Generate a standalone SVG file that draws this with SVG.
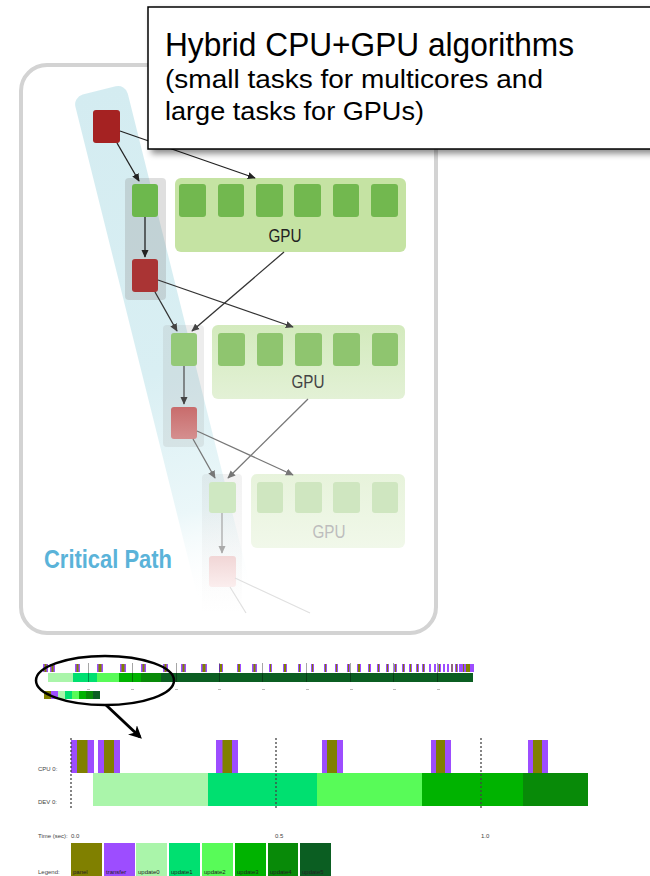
<svg xmlns="http://www.w3.org/2000/svg" width="650" height="876" viewBox="0 0 650 876">
<defs>
<style>
.ttl{font-family:"Liberation Sans Narrow","Liberation Sans",Arial,sans-serif;fill:#000}
.gpu{font-family:"Liberation Sans Narrow","Liberation Sans",Arial,sans-serif;font-size:18.5px;text-anchor:middle}
.tiny{font-family:"Liberation Sans",Arial,sans-serif;font-size:6px;fill:#444}
.lg{font-family:"Liberation Sans",Arial,sans-serif;font-size:6px;fill:#222}
.pa{fill:#808000}.tr{fill:#9d4dff}.u0{fill:#aaf5aa}.u1{fill:#00e070}.u2{fill:#58fb58}.u3{fill:#00b300}.u4{fill:#088a08}.u5{fill:#0b5e22}
</style>
<linearGradient id="band" x1="0" y1="0" x2="0" y2="1">
<stop offset="0" stop-color="#d4ecf1"/>
<stop offset="0.55" stop-color="#d9eff3"/>
<stop offset="0.82" stop-color="#ebf7f9"/>
<stop offset="1" stop-color="#ffffff" stop-opacity="0"/>
</linearGradient>
<linearGradient id="gpu2" x1="0" y1="0" x2="0" y2="1"><stop offset="0" stop-color="#d3eabd"/><stop offset="1" stop-color="#e3f1d6"/></linearGradient>
<linearGradient id="gpu3" x1="0" y1="0" x2="0" y2="1"><stop offset="0" stop-color="#e7f3db"/><stop offset="1" stop-color="#f1f8ea"/></linearGradient>
<linearGradient id="red3" x1="0" y1="0" x2="0" y2="1"><stop offset="0" stop-color="#c86c6c"/><stop offset="1" stop-color="#d58f8f"/></linearGradient>
<linearGradient id="red4" x1="0" y1="0" x2="0" y2="1"><stop offset="0" stop-color="#f1d6d6"/><stop offset="1" stop-color="#fbeeee"/></linearGradient>
<linearGradient id="col3" x1="0" y1="0" x2="0" y2="1"><stop offset="0" stop-color="#a0a0a0" stop-opacity="0.14"/><stop offset="1" stop-color="#a0a0a0" stop-opacity="0"/></linearGradient>
<filter id="sh" x="-10%" y="-10%" width="130%" height="130%">
<feDropShadow dx="4" dy="4" stdDeviation="3" flood-color="#000" flood-opacity="0.45"/>
</filter>
<marker id="m1" viewBox="0 0 10 10" refX="9" refY="5" markerWidth="8" markerHeight="8" orient="auto" markerUnits="userSpaceOnUse"><path d="M0,0.5 L10,5 L0,9.5 z" fill="#222"/></marker>
<marker id="m2" viewBox="0 0 10 10" refX="9" refY="5" markerWidth="8" markerHeight="8" orient="auto" markerUnits="userSpaceOnUse"><path d="M0,0.5 L10,5 L0,9.5 z" fill="#444"/></marker>
<marker id="m3" viewBox="0 0 10 10" refX="9" refY="5" markerWidth="8" markerHeight="8" orient="auto" markerUnits="userSpaceOnUse"><path d="M0,0.5 L10,5 L0,9.5 z" fill="#777"/></marker>
<marker id="m4" viewBox="0 0 10 10" refX="9" refY="5" markerWidth="8" markerHeight="8" orient="auto" markerUnits="userSpaceOnUse"><path d="M0,0.5 L10,5 L0,9.5 z" fill="#aaa"/></marker>
<marker id="mb" viewBox="0 0 10 10" refX="8" refY="5" markerWidth="13" markerHeight="13" orient="auto" markerUnits="userSpaceOnUse"><path d="M0,0 L10,5 L0,10 L3,5 z" fill="#000"/></marker>
</defs>
<rect width="650" height="876" fill="#fff"/>

<!-- panel -->
<g id="panel">
<rect x="21" y="65" width="415" height="568" rx="26" fill="#fff" stroke="#d3d3d3" stroke-width="4"/>
<rect x="0" y="0" width="54" height="525" rx="10" fill="url(#band)" transform="translate(73,97) rotate(-14)"/>
</g>

<!-- column boxes -->
<g id="col1"><rect x="125" y="178" width="41" height="122" rx="4" fill="#8c8c8c" fill-opacity="0.28"/></g>
<g id="col2"><rect x="163" y="325" width="41" height="122" rx="4" fill="#999" fill-opacity="0.18"/></g>
<g id="col3"><rect x="202" y="474" width="40" height="140" rx="4" fill="url(#col3)"/></g>

<!-- row 1 -->
<g id="red1"><rect x="93" y="110" width="27" height="33" rx="3" fill="#a52222"/></g>
<g id="green1"><rect x="132" y="184" width="26" height="33" rx="3" fill="#6db84d"/></g>
<g id="red2"><rect x="132" y="259" width="26" height="33" rx="3" fill="#aa3434"/></g>
<g id="gpu1">
<rect x="175" y="178" width="231" height="74" rx="6" fill="#c5e3a3"/>
<rect x="179" y="184" width="27" height="33" rx="3" fill="#72b84f"/>
<rect x="218" y="184" width="26" height="33" rx="3" fill="#72b84f"/>
<rect x="256" y="184" width="27" height="33" rx="3" fill="#72b84f"/>
<rect x="294" y="184" width="27" height="33" rx="3" fill="#72b84f"/>
<rect x="333" y="184" width="26" height="33" rx="3" fill="#72b84f"/>
<rect x="371" y="184" width="27" height="33" rx="3" fill="#72b84f"/>
<text class="gpu" x="285" y="242" fill="#222" textLength="33" lengthAdjust="spacingAndGlyphs">GPU</text>
</g>

<!-- row 2 -->
<g id="green2"><rect x="171" y="333" width="26" height="33" rx="3" fill="#94c978"/></g>
<g id="red3"><rect x="171" y="407" width="26" height="32" rx="3" fill="url(#red3)"/></g>
<g id="gpu2">
<rect x="212" y="325" width="193" height="74" rx="6" fill="url(#gpu2)"/>
<rect x="218" y="333" width="27" height="33" rx="3" fill="#8fc56f"/>
<rect x="257" y="333" width="26" height="33" rx="3" fill="#8fc56f"/>
<rect x="295" y="333" width="27" height="33" rx="3" fill="#8fc56f"/>
<rect x="333" y="333" width="27" height="33" rx="3" fill="#8fc56f"/>
<rect x="372" y="333" width="26" height="33" rx="3" fill="#8fc56f"/>
<text class="gpu" x="308" y="388" fill="#444" textLength="33" lengthAdjust="spacingAndGlyphs">GPU</text>
</g>

<!-- row 3 -->
<g id="green3"><rect x="209" y="482" width="27" height="31" rx="3" fill="#cfe8c2"/></g>
<g id="gpu3">
<rect x="251" y="474" width="154" height="74" rx="6" fill="url(#gpu3)"/>
<rect x="257" y="482" width="26" height="31" rx="3" fill="#cfe6c0"/>
<rect x="295" y="482" width="27" height="31" rx="3" fill="#cfe6c0"/>
<rect x="333" y="482" width="27" height="31" rx="3" fill="#cfe6c0"/>
<rect x="372" y="482" width="26" height="31" rx="3" fill="#cfe6c0"/>
<text class="gpu" x="329" y="538" fill="#bdbdbd" textLength="33" lengthAdjust="spacingAndGlyphs">GPU</text>
</g>
<g id="red4"><rect x="209" y="556" width="27" height="31" rx="3" fill="url(#red4)"/></g>

<!-- connectors -->
<g id="connectors" fill="none">
<line x1="117" y1="143" x2="139" y2="181" stroke="#222" stroke-width="1.3" marker-end="url(#m1)"/>
<line x1="120" y1="131" x2="255" y2="178" stroke="#222" stroke-width="1.3" marker-end="url(#m1)"/>
<line x1="145" y1="217" x2="145" y2="257" stroke="#222" stroke-width="1.3" marker-end="url(#m1)"/>
<line x1="284" y1="252" x2="192" y2="331" stroke="#333" stroke-width="1.3" marker-end="url(#m2)"/>
<line x1="158" y1="280" x2="293" y2="327" stroke="#333" stroke-width="1.3" marker-end="url(#m2)"/>
<line x1="155" y1="292" x2="177" y2="331" stroke="#333" stroke-width="1.3" marker-end="url(#m2)"/>
<line x1="184" y1="366" x2="184" y2="404" stroke="#555" stroke-width="1.3" marker-end="url(#m2)"/>
<line x1="197" y1="431" x2="293" y2="475" stroke="#777" stroke-width="1.3" marker-end="url(#m3)"/>
<line x1="193" y1="439" x2="215" y2="478" stroke="#777" stroke-width="1.3" marker-end="url(#m3)"/>
<line x1="308" y1="399" x2="228" y2="478" stroke="#777" stroke-width="1.3" marker-end="url(#m3)"/>
<line x1="222" y1="513" x2="222" y2="553" stroke="#aaa" stroke-width="1.3" marker-end="url(#m4)"/>
<line x1="235" y1="578" x2="310" y2="613" stroke="#e0e0e0" stroke-width="1.2"/>
<line x1="230" y1="587" x2="246" y2="613" stroke="#e0e0e0" stroke-width="1.2"/>
</g>

<text x="44" y="568" font-family="'Liberation Sans Narrow','Liberation Sans',Arial,sans-serif" font-weight="bold" font-size="25" fill="#5ab3d9" textLength="128" lengthAdjust="spacingAndGlyphs">Critical Path</text>

<!-- title box -->
<g id="title">
<rect x="148" y="7" width="520" height="142" fill="#fff" stroke="#000" stroke-width="1.5" filter="url(#sh)"/>
<text class="ttl" x="165" y="56" font-size="33" textLength="409" lengthAdjust="spacingAndGlyphs">Hybrid CPU+GPU algorithms</text>
<text class="ttl" x="165" y="88" font-size="26" textLength="378" lengthAdjust="spacingAndGlyphs">(small tasks for multicores and</text>
<text class="ttl" x="165" y="120" font-size="26" textLength="259" lengthAdjust="spacingAndGlyphs">large tasks for GPUs)</text>
</g>

<!-- mini timeline -->
<g id="mini">
<rect class="u0" x="48" y="673" width="25" height="9"/>
<rect class="u1" x="73" y="673" width="24" height="9"/>
<rect class="u2" x="97" y="673" width="22" height="9"/>
<rect class="u3" x="119" y="673" width="22" height="9"/>
<rect class="u4" x="141" y="673" width="20" height="9"/>
<rect class="u5" x="161" y="673" width="312" height="9"/>
<g id="miniticks">
<rect class="tr" x="43" y="664" width="5" height="8"/><rect class="pa" x="44.5" y="664" width="2" height="8"/>
<rect class="tr" x="50" y="664" width="5" height="8"/><rect class="pa" x="51.5" y="664" width="2" height="8"/>
<rect class="tr" x="75" y="664" width="5" height="8"/><rect class="pa" x="76.5" y="664" width="2" height="8"/>
<rect class="tr" x="97" y="664" width="6" height="8"/><rect class="pa" x="98.5" y="664" width="3" height="8"/>
<rect class="tr" x="120" y="664" width="6" height="8"/><rect class="pa" x="121.5" y="664" width="3" height="8"/>
<rect class="tr" x="141" y="664" width="5" height="8"/><rect class="pa" x="142.5" y="664" width="2" height="8"/>
<rect class="tr" x="163" y="664" width="5" height="8"/><rect class="pa" x="164.5" y="664" width="2" height="8"/>
<rect class="tr" x="181" y="664" width="5" height="8"/><rect class="pa" x="182.5" y="664" width="2" height="8"/>
<rect class="tr" x="201" y="664" width="6" height="8"/><rect class="pa" x="202.5" y="664" width="3" height="8"/>
<rect class="tr" x="219" y="664" width="4" height="8"/><rect class="pa" x="220" y="664" width="2" height="8"/>
<rect class="tr" x="237" y="664" width="4" height="8"/><rect class="pa" x="238" y="664" width="2" height="8"/>
<rect class="tr" x="252" y="664" width="5" height="8"/><rect class="pa" x="253.5" y="664" width="2" height="8"/>
<rect class="tr" x="269" y="664" width="3" height="8"/><rect class="pa" x="270" y="664" width="1" height="8"/>
<rect class="tr" x="283" y="664" width="4" height="8"/><rect class="pa" x="284" y="664" width="2" height="8"/>
<rect class="tr" x="298" y="664" width="3" height="8"/><rect class="pa" x="299" y="664" width="1" height="8"/>
<rect class="tr" x="311" y="664" width="3" height="8"/><rect class="pa" x="312" y="664" width="1" height="8"/>
<rect class="tr" x="324" y="664" width="3" height="8"/><rect class="pa" x="325" y="664" width="1" height="8"/>
<rect class="tr" x="335" y="664" width="3" height="8"/><rect class="pa" x="336" y="664" width="1" height="8"/>
<rect class="tr" x="347" y="664" width="3" height="8"/><rect class="pa" x="348" y="664" width="1" height="8"/>
<rect class="tr" x="357" y="664" width="4" height="8"/><rect class="pa" x="358" y="664" width="2" height="8"/>
<rect class="tr" x="368" y="664" width="3" height="8"/><rect class="pa" x="369" y="664" width="1" height="8"/>
<rect class="tr" x="377" y="664" width="3" height="8"/><rect class="pa" x="378" y="664" width="1" height="8"/>
<rect class="tr" x="386" y="664" width="3" height="8"/><rect class="pa" x="387" y="664" width="1" height="8"/>
<rect class="tr" x="394" y="664" width="3" height="8"/><rect class="pa" x="395" y="664" width="1" height="8"/>
<rect class="tr" x="402" y="664" width="3" height="8"/><rect class="pa" x="403" y="664" width="1" height="8"/>
<rect class="tr" x="409" y="664" width="3" height="8"/><rect class="pa" x="410" y="664" width="1" height="8"/>
<rect class="tr" x="416" y="664" width="3" height="8"/><rect class="pa" x="417" y="664" width="1" height="8"/>
<rect class="tr" x="422" y="664" width="3" height="8"/><rect class="pa" x="423" y="664" width="1" height="8"/>
<rect class="tr" x="429" y="664" width="2" height="8"/>
<rect class="tr" x="434" y="664" width="2" height="8"/>
<rect class="tr" x="438" y="664" width="3" height="8"/><rect class="pa" x="439" y="664" width="1" height="8"/>
<rect class="tr" x="443" y="664" width="2" height="8"/>
<rect class="tr" x="447" y="664" width="2" height="8"/>
<rect class="tr" x="451" y="664" width="2" height="8"/><rect class="pa" x="451.5" y="664" width="1" height="8"/>
<rect class="tr" x="455" y="664" width="3" height="8"/><rect class="pa" x="456" y="664" width="1" height="8"/>
<rect class="tr" x="459" y="664" width="15" height="8"/><rect class="pa" x="463" y="664" width="1" height="8"/><rect class="pa" x="466" y="664" width="4" height="8"/>
</g>
<g stroke="#000" stroke-opacity="0.35" stroke-width="1">
<line x1="88.5" y1="663" x2="88.5" y2="682"/><line x1="132.5" y1="663" x2="132.5" y2="682"/>
<line x1="176.5" y1="663" x2="176.5" y2="682"/><line x1="219.5" y1="663" x2="219.5" y2="682"/>
<line x1="262.5" y1="663" x2="262.5" y2="682"/><line x1="306.5" y1="663" x2="306.5" y2="682"/>
<line x1="350.5" y1="663" x2="350.5" y2="682"/><line x1="393.5" y1="663" x2="393.5" y2="682"/>
<line x1="437.5" y1="663" x2="437.5" y2="682"/>
</g>
<g fill="#bbb">
<rect x="87" y="689" width="3" height="1"/><rect x="131" y="689" width="3" height="1"/><rect x="175" y="689" width="3" height="1"/>
<rect x="218" y="689" width="3" height="1"/><rect x="262" y="689" width="3" height="1"/><rect x="306" y="689" width="3" height="1"/>
<rect x="350" y="689" width="3" height="1"/><rect x="393" y="689" width="3" height="1"/><rect x="437" y="689" width="3" height="1"/>
</g>
<rect class="pa" x="44" y="691" width="7" height="8"/>
<rect class="tr" x="51" y="691" width="7" height="8"/>
<rect class="u0" x="58" y="691" width="7" height="8"/>
<rect class="u1" x="65" y="691" width="7" height="8"/>
<rect class="u2" x="72" y="691" width="7" height="8"/>
<rect class="u3" x="79" y="691" width="7" height="8"/>
<rect class="u4" x="86" y="691" width="7" height="8"/>
<rect class="u5" x="93" y="691" width="7" height="8"/>
</g>

<!-- zoom ellipse and arrow -->
<g id="zoom">
<ellipse cx="105" cy="680.5" rx="69" ry="24.5" fill="none" stroke="#000" stroke-width="2.5"/>
<line x1="106" y1="705" x2="140" y2="737" stroke="#000" stroke-width="3" marker-end="url(#mb)"/>
</g>

<!-- detailed chart -->
<g id="detail">
<rect class="tr" x="71" y="740" width="23" height="33"/><rect class="pa" x="77" y="740" width="10.5" height="33"/>
<rect class="tr" x="98" y="740" width="22" height="33"/><rect class="pa" x="104" y="740" width="10" height="33"/>
<rect class="tr" x="216" y="740" width="22" height="33"/><rect class="pa" x="222.5" y="740" width="9.5" height="33"/>
<rect class="tr" x="322" y="740" width="21" height="33"/><rect class="pa" x="327" y="740" width="10" height="33"/>
<rect class="tr" x="431" y="740" width="20" height="33"/><rect class="pa" x="436" y="740" width="9" height="33"/>
<rect class="tr" x="528" y="740" width="20" height="33"/><rect class="pa" x="533" y="740" width="9" height="33"/>
<rect class="u0" x="93" y="773" width="115" height="33"/>
<rect class="u1" x="208" y="773" width="109" height="33"/>
<rect class="u2" x="317" y="773" width="105" height="33"/>
<rect class="u3" x="422" y="773" width="101" height="33"/>
<rect class="u4" x="523" y="773" width="65" height="33"/>
<g stroke="#444" stroke-width="1.3" stroke-dasharray="2,2">
<line x1="71" y1="738" x2="71" y2="808"/>
<line x1="276" y1="738" x2="276" y2="808"/>
<line x1="481" y1="738" x2="481" y2="808"/>
</g>
<text class="tiny" x="38" y="771">CPU 0:</text>
<text class="tiny" x="38" y="804">DEV 0:</text>
<text class="tiny" x="38" y="838">Time (sec):</text>
<text class="tiny" x="71" y="838">0.0</text>
<text class="tiny" x="275" y="838">0.5</text>
<text class="tiny" x="481" y="838">1.0</text>
</g>

<!-- legend -->
<g id="legend">
<text class="tiny" x="38" y="874">Legend:</text>
<rect class="pa" x="71" y="843" width="31" height="33"/>
<rect class="tr" x="104" y="843" width="31" height="33"/>
<rect class="u0" x="136" y="843" width="31" height="33"/>
<rect class="u1" x="169" y="843" width="31" height="33"/>
<rect class="u2" x="202" y="843" width="31" height="33"/>
<rect class="u3" x="235" y="843" width="31" height="33"/>
<rect class="u4" x="268" y="843" width="30" height="33"/>
<rect class="u5" x="300" y="843" width="31" height="33"/>
<text class="lg" x="73" y="874">panel</text>
<text class="lg" x="106" y="874">transfer</text>
<text class="lg" x="138" y="874">update0</text>
<text class="lg" x="171" y="874">update1</text>
<text class="lg" x="204" y="874">update2</text>
<text class="lg" x="237" y="874">update3</text>
<text class="lg" x="270" y="874">update4</text>
<text class="lg" x="302" y="874">update5</text>
</g>
</svg>
